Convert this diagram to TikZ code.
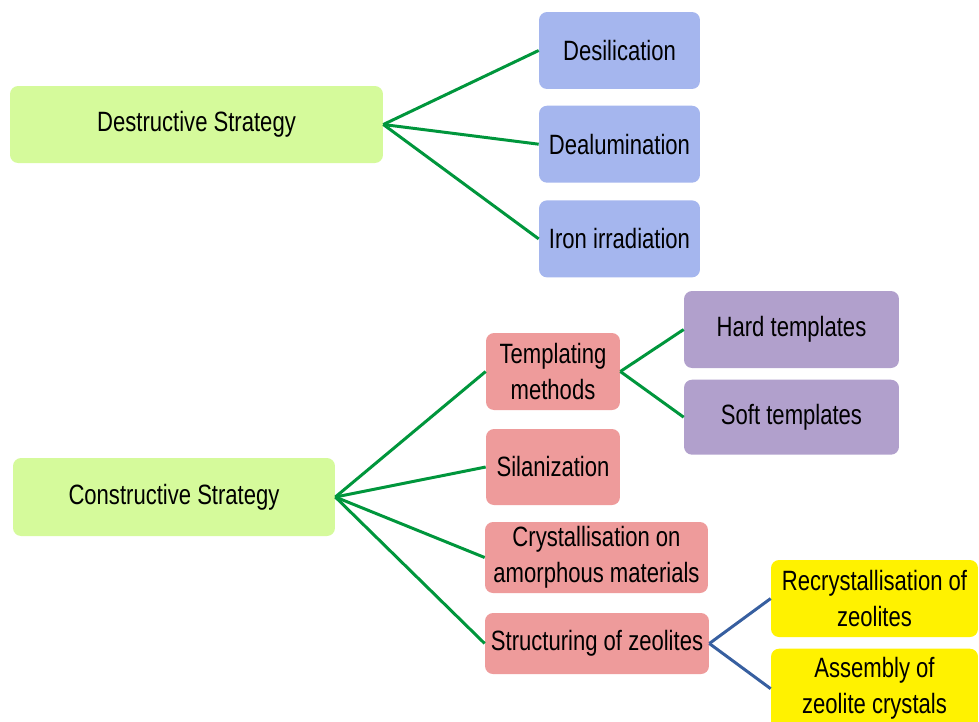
\documentclass[tikz,border=0pt]{standalone}
\usepackage{fontspec}
\setmainfont[FakeStretch=0.79]{Liberation Sans}
\usetikzlibrary{positioning}

\definecolor{leafgreen}{RGB}{213,250,155}
\definecolor{paleblue}{RGB}{165,182,238}
\definecolor{palered}{RGB}{238,155,155}
\definecolor{palepurple}{RGB}{177,160,204}
\definecolor{linegreen}{RGB}{0,150,60}
\definecolor{lineblue}{RGB}{55,95,160}

\begin{document}
\begin{tikzpicture}[x=0.02cm,y=-0.02cm,
  main node/.style={rounded corners=0.16cm,inner sep=1pt,align=center,
    minimum height=1.54cm,font=\fontsize{15.9}{20.5}\selectfont},
  strategy node/.style={main node,fill=leafgreen},
  blue node/.style={main node,fill=paleblue,minimum width=3.22cm},
  red node/.style={main node,fill=palered,minimum width=2.68cm},
  purple node/.style={main node,fill=palepurple,minimum width=4.3cm},
  yellow node/.style={main node,fill=yellow,minimum width=4.14cm}]
        \useasboundingbox (0,0) rectangle (979,721);
        \clip (0,0) rectangle (979,721);

        \node[strategy node,minimum width=7.46cm] (1) at (196.5,124.5) {Destructive Strategy};
        \node[blue node] (2) at (619.5,50.5) {Desilication};
        \node[blue node] (3) [below=0.32cm of 2] {Dealumination};
        \node[blue node] (4) [below=0.34cm of 3] {Iron irradiation};

        \node[strategy node,minimum width=6.44cm,minimum height=1.56cm] (5) at (174,497) {Constructive Strategy};
        \node[red node] (6) at (553,371.5) {Templating\\methods};
        \node[red node,minimum height=1.52cm] (7) at (553,467) {Silanization};
        \node[red node,minimum width=4.46cm,minimum height=1.42cm] (8) at (596.5,557.5) {Crystallisation on\\amorphous materials};
        \node[red node,minimum width=4.48cm,minimum height=1.22cm] (9) at (597,643.5) {Structuring of zeolites};

        \node[purple node] (10) at (791.5,329.5) {Hard templates};
        \node[purple node,minimum height=1.5cm] (11) [below=0.22cm of 10] {Soft templates};
        \node[yellow node] (12) at (874.5,598.5) {Recrystallisation of\\zeolites};
        \node[yellow node,minimum height=1.6cm] (13) [below=0.22cm of 12] {Assembly of\\zeolite crystals};

        \path[line width=1.7pt,draw=linegreen]
        (1.east) edge (2.west)
        (1.east) edge (3.west)
        (1.east) edge (4.west)
        (5.east) edge (6.west)
        (5.east) edge (7.west)
        (5.east) edge (8.west)
        (5.east) edge (9.west)
        (6.east) edge (10.west)
        (6.east) edge (11.west);

        \path[line width=1.7pt,draw=lineblue]
        (9.east) edge (12.west)
        (9.east) edge (13.west);
    \end{tikzpicture}
\end{document}
